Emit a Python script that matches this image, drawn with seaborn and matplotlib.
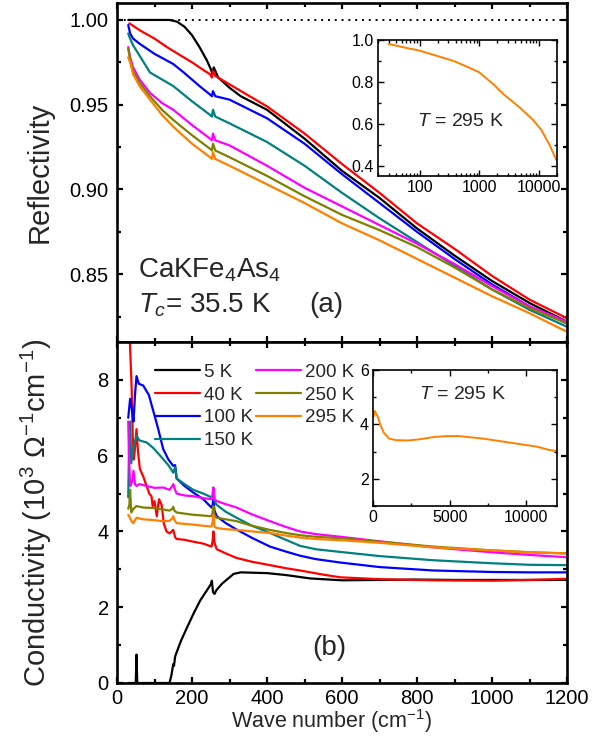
import numpy as np
import pandas as pd
import matplotlib
matplotlib.use("Agg")
import matplotlib.pyplot as plt
from matplotlib.ticker import MultipleLocator, FormatStrFormatter, FuncFormatter, LogLocator, NullFormatter
import seaborn as sns

# ---------------- data ----------------
temps = ["5 K", "40 K", "100 K", "150 K", "200 K", "250 K", "295 K"]
colors = ["#000000", "#ff0000", "#0000ff", "#008080", "#ff00ff", "#808000", "#ff8000"]

# Reflectivity R(w), wave number in cm^-1
refl_x_5 = [30, 60, 100, 140, 160, 180, 200, 220, 240, 250, 255, 258, 262, 270, 300, 330, 400, 500, 600, 700, 800,
            900, 1000, 1100, 1200]
refl_y_5 = [1.000, 1.000, 1.000, 1.000, 0.999, 0.996, 0.991, 0.984, 0.976, 0.971, 0.968, 0.972, 0.970, 0.966, 0.960,
            0.955, 0.947, 0.930, 0.911, 0.895, 0.877, 0.861, 0.846, 0.833, 0.822]
refl_x_40 = [33, 40, 60, 100, 133, 170, 200, 230, 248, 253, 256, 262, 300, 400, 500, 600, 700, 800, 900, 1000, 1100,
             1200]
refl_y_40 = [0.998, 0.997, 0.994, 0.989, 0.984, 0.979, 0.975, 0.9705, 0.968, 0.966, 0.970, 0.967, 0.962, 0.949,
             0.933, 0.915, 0.898, 0.880, 0.865, 0.849, 0.835, 0.824]
refl_x_100 = [30, 35, 43, 60, 100, 150, 178, 220, 248, 253, 256, 262, 300, 400, 500, 600, 700, 800, 900, 1000, 1100,
              1200]
refl_y_100 = [0.997, 0.992, 0.989, 0.986, 0.980, 0.974, 0.969, 0.961, 0.956, 0.955, 0.958, 0.955, 0.953, 0.942,
              0.927, 0.909, 0.892, 0.875, 0.859, 0.844, 0.831, 0.821]
refl_x_150 = [30, 35, 43, 60, 88, 150, 200, 248, 253, 256, 262, 300, 400, 500, 600, 700, 800, 900, 1000, 1100, 1200]
refl_y_150 = [0.992, 0.989, 0.985, 0.979, 0.969, 0.961, 0.952, 0.944, 0.943, 0.947, 0.943, 0.939, 0.928, 0.914,
              0.898, 0.883, 0.869, 0.855, 0.841, 0.829, 0.819]
refl_x_200 = [30, 35, 43, 60, 88, 120, 150, 200, 248, 253, 256, 262, 300, 400, 500, 600, 700, 800, 900, 1000, 1100,
              1200]
refl_y_200 = [0.984, 0.978, 0.972, 0.965, 0.957, 0.951, 0.947, 0.938, 0.930, 0.929, 0.933, 0.929, 0.926, 0.914,
              0.901, 0.890, 0.879, 0.868, 0.856, 0.843, 0.831, 0.822]
refl_x_250 = [30, 35, 43, 60, 88, 120, 150, 200, 248, 253, 256, 262, 300, 400, 500, 600, 700, 800, 900, 1000, 1100,
              1200]
refl_y_250 = [0.983, 0.977, 0.970, 0.963, 0.955, 0.947, 0.941, 0.932, 0.924, 0.923, 0.927, 0.923, 0.919, 0.908,
              0.896, 0.885, 0.876, 0.866, 0.854, 0.841, 0.830, 0.821]
refl_x_295 = [30, 35, 43, 60, 88, 120, 150, 200, 248, 253, 256, 262, 300, 400, 500, 600, 700, 800, 900, 1000, 1100,
              1200]
refl_y_295 = [0.978, 0.975, 0.968, 0.961, 0.953, 0.944, 0.937, 0.927, 0.919, 0.918, 0.922, 0.918, 0.914, 0.903,
              0.892, 0.880, 0.870, 0.859, 0.848, 0.837, 0.827, 0.816]

# Optical conductivity sigma_1(w), 10^3 Ohm^-1 cm^-1
cond_x_5 = [30, 45, 50, 52, 54, 60, 100, 140, 145, 150, 152, 155, 170, 187, 205, 222, 240, 250, 253, 256, 260, 265,
            280, 311, 330, 400, 450, 515, 600, 700, 800, 900, 1000, 1100, 1200]
cond_y_5 = [0, 0, 0, 0.75, 0, 0, 0, 0, 0.2, 0.5, 0.45, 0.7, 1.1, 1.47, 1.85, 2.18, 2.45, 2.6, 2.7, 2.4, 2.35, 2.45,
            2.62, 2.88, 2.92, 2.9, 2.85, 2.76, 2.71, 2.72, 2.73, 2.72, 2.72, 2.72, 2.72]
cond_x_40 = [30, 33, 36, 39, 42, 45, 48, 52, 56, 61, 70, 79, 86, 92, 95, 100, 106, 112, 119, 125, 132, 140, 150, 155,
             159, 180, 203, 230, 252, 255, 257, 260, 266, 290, 319, 360, 408, 450, 488, 550, 595, 700, 843, 1000,
             1100, 1200]
cond_y_40 = [9.6, 9.3, 8.6, 7.8, 6.5, 5.9, 6.2, 6.7, 6.1, 5.65, 5.45, 5.2, 5.0, 4.93, 4.67, 4.8, 4.4, 4.85, 4.7, 4.2,
             4.0, 3.95, 4.04, 3.85, 3.8, 3.78, 3.73, 3.68, 3.6, 3.75, 4.0, 3.7, 3.53, 3.42, 3.3, 3.2, 3.11, 3.03,
             2.97, 2.86, 2.79, 2.74, 2.71, 2.70, 2.72, 2.75]
cond_x_100 = [30, 35, 40, 44, 48, 52, 58, 70, 85, 97, 110, 123, 137, 150, 155, 159, 180, 203, 230, 252, 255, 257, 260,
              266, 290, 319, 360, 408, 450, 488, 530, 595, 700, 843, 1000, 1100, 1200]
cond_y_100 = [7.0, 7.5, 7.2, 6.9, 7.6, 8.1, 7.9, 7.85, 7.6, 7.17, 6.7, 6.18, 5.9, 5.73, 5.75, 5.4, 5.2, 5.03, 4.85,
              4.63, 4.7, 4.85, 4.55, 4.4, 4.22, 4.05, 3.83, 3.6, 3.47, 3.36, 3.27, 3.18, 3.06, 2.97, 2.93, 2.92, 2.92]
cond_x_150 = [30, 33, 35, 38, 44, 52, 60, 79, 97, 115, 137, 150, 155, 159, 180, 203, 230, 252, 255, 257, 260, 266,
              290, 319, 360, 408, 450, 488, 530, 595, 700, 843, 1000, 1100, 1200]
cond_y_150 = [4.9, 6.8, 6.9, 5.8, 6.2, 6.53, 6.4, 6.35, 6.2, 6.0, 5.75, 5.55, 5.7, 5.4, 5.25, 5.1, 5.0, 4.9, 4.95,
              5.15, 4.8, 4.7, 4.52, 4.36, 4.15, 3.96, 3.78, 3.62, 3.53, 3.46, 3.35, 3.24, 3.16, 3.12, 3.11]
cond_x_200 = [30, 32, 35, 40, 44, 48, 52, 60, 79, 100, 123, 140, 148, 150, 153, 159, 180, 203, 230, 252, 255, 257,
              260, 266, 290, 319, 360, 408, 450, 488, 530, 595, 700, 843, 1000, 1100, 1200]
cond_y_200 = [6.9, 6.0, 5.2, 5.3, 5.6, 5.25, 5.2, 5.25, 5.2, 5.15, 5.16, 5.1, 5.2, 5.25, 5.15, 5.0, 4.95, 4.93, 4.88,
              4.85, 4.95, 5.16, 4.85, 4.8, 4.72, 4.63, 4.45, 4.27, 4.12, 4.0, 3.93, 3.86, 3.74, 3.58, 3.45, 3.38, 3.32]
cond_x_250 = [30, 33, 35, 38, 44, 52, 70, 97, 123, 140, 148, 150, 153, 159, 180, 203, 230, 252, 255, 257, 260, 266,
              290, 319, 360, 408, 450, 488, 530, 595, 700, 843, 1000, 1100, 1200]
cond_y_250 = [4.6, 4.7, 5.1, 4.5, 4.6, 4.67, 4.63, 4.62, 4.58, 4.55, 4.6, 4.65, 4.55, 4.5, 4.47, 4.44, 4.42, 4.4,
              4.5, 4.67, 4.4, 4.36, 4.32, 4.27, 4.15, 4.04, 3.96, 3.9, 3.86, 3.82, 3.73, 3.6, 3.5, 3.45, 3.42]
cond_x_295 = [30, 35, 40, 44, 48, 52, 70, 97, 123, 140, 148, 150, 153, 159, 180, 203, 230, 252, 255, 257, 260, 266,
              290, 319, 360, 408, 450, 488, 530, 595, 700, 843, 1000, 1100, 1200]
cond_y_295 = [4.44, 4.35, 4.25, 4.22, 4.3, 4.36, 4.32, 4.3, 4.27, 4.28, 4.35, 4.4, 4.3, 4.22, 4.2, 4.18, 4.15, 4.13,
              4.25, 4.44, 4.12, 4.09, 4.06, 4.04, 4.0, 3.96, 3.89, 3.84, 3.8, 3.77, 3.7, 3.58, 3.5, 3.45, 3.42]

# Room-temperature spectra over a wide range (insets)
wide_refl_x = [30, 54, 100, 194, 369, 615, 987, 1710, 2512, 4764, 7943, 10940, 15060, 19440]
wide_refl_y = [0.981, 0.965, 0.949, 0.924, 0.900, 0.873, 0.846, 0.789, 0.742, 0.677, 0.618, 0.570, 0.498, 0.427]
wide_cond_x = [50, 100, 200, 300, 490, 700, 1040, 1500, 2310, 3000, 4040, 4810, 5600, 7150, 8930, 10700, 11500,
               12000]
wide_cond_y = [4.3, 4.5, 4.4, 4.3, 3.97, 3.7, 3.48, 3.42, 3.41, 3.45, 3.54, 3.57, 3.57, 3.48, 3.33, 3.18, 3.06, 3.02]

refl_x = [refl_x_5, refl_x_40, refl_x_100, refl_x_150, refl_x_200, refl_x_250, refl_x_295]
refl_y = [refl_y_5, refl_y_40, refl_y_100, refl_y_150, refl_y_200, refl_y_250, refl_y_295]
cond_x = [cond_x_5, cond_x_40, cond_x_100, cond_x_150, cond_x_200, cond_x_250, cond_x_295]
cond_y = [cond_y_5, cond_y_40, cond_y_100, cond_y_150, cond_y_200, cond_y_250, cond_y_295]

# ---------------- style ----------------
sns.set_style("ticks")
plt.rcParams["font.family"] = ["Liberation Sans", "DejaVu Sans"]
plt.rcParams["mathtext.fontset"] = "custom"
plt.rcParams["mathtext.rm"] = "Liberation Sans"
plt.rcParams["mathtext.it"] = "Liberation Sans:italic"
plt.rcParams["mathtext.bf"] = "Liberation Sans:bold"

fig = plt.figure(figsize=(6.16, 7.4), dpi=100)
L, R_ = 117 / 616, 567 / 616
ax1 = fig.add_axes([L, 1 - 342 / 740, R_ - L, 339 / 740])
ax2 = fig.add_axes([L, 1 - 683 / 740, R_ - L, 341 / 740], sharex=ax1)


def style_main(ax):
    for s in ax.spines.values():
        s.set_linewidth(1.9)
        s.set_color("black")
    ax.tick_params(which="both", direction="in", top=True, right=True, width=1.6, colors="black",
                   labelsize=14.5)
    ax.tick_params(which="major", length=4.5)
    ax.tick_params(which="minor", length=3)
    ax.tick_params(axis="y", pad=6)
    ax.tick_params(axis="x", pad=4)


# ----- (a) reflectivity -----
for i, t in enumerate(temps):
    df = pd.DataFrame({"wn": refl_x[i], "R": refl_y[i]})
    sns.lineplot(data=df, x="wn", y="R", ax=ax1, color=colors[i], lw=1.6, sort=False, estimator=None)
ax1.axhline(1.0, color="black", ls=(0, (1, 2.5)), lw=1.4, zorder=0)
ax1.set_ylim(0.81, 1.01)
ax1.yaxis.set_major_locator(MultipleLocator(0.05))
ax1.yaxis.set_minor_locator(MultipleLocator(0.025))
ax1.yaxis.set_major_formatter(FormatStrFormatter("%.2f"))
ax1.set_xlabel("")
ax1.set_ylabel("Reflectivity", fontsize=21)
ax1.yaxis.set_label_coords(-0.14, 0.5)
style_main(ax1)
ax1.tick_params(axis="x", labelbottom=False)
ax1.text(0.047, 0.213, r"CaKFe$_4$As$_4$", transform=ax1.transAxes, fontsize=20, va="center", ha="left")
ax1.text(0.047, 0.108, r"$T_c$= 35.5 K", transform=ax1.transAxes, fontsize=20, va="center", ha="left")
ax1.text(0.428, 0.11, "(a)", transform=ax1.transAxes, fontsize=20, va="center", ha="left")

# ----- (b) conductivity -----
for i, t in enumerate(temps):
    df = pd.DataFrame({"wn": cond_x[i], "s": cond_y[i]})
    sns.lineplot(data=df, x="wn", y="s", ax=ax2, color=colors[i], lw=1.6, sort=False, estimator=None, label=t)
ax2.set_xlim(0, 1200)
ax2.set_ylim(0, 9)
ax2.xaxis.set_major_locator(MultipleLocator(200))
ax2.xaxis.set_minor_locator(MultipleLocator(100))
ax2.yaxis.set_major_locator(MultipleLocator(2))
ax2.yaxis.set_minor_locator(MultipleLocator(1))
ax2.set_xlabel(r"Wave number (cm$^{-1}$)", fontsize=15.5, labelpad=0)
ax2.xaxis.label.set_x(0.478)
ax2.set_ylabel(r"Conductivity (10$^3$ $\Omega^{-1}$cm$^{-1}$)", fontsize=21)
ax2.yaxis.set_label_coords(-0.14, 0.5)
style_main(ax2)
ax2.text(0.435, 0.103, "(b)", transform=ax2.transAxes, fontsize=20, va="center", ha="left")
ax2.legend(ncol=2, loc="upper left", bbox_to_anchor=(0.084, 0.937), frameon=False, fontsize=13.5,
           handlelength=2.4, handletextpad=0.2, columnspacing=0.2, labelspacing=0.31, borderpad=0,
           borderaxespad=0)

# ----- insets -----
def style_inset(ax):
    for s in ax.spines.values():
        s.set_linewidth(1.2)
        s.set_color("black")
    ax.tick_params(which="both", direction="in", top=True, right=True, width=1.0, colors="black",
                   labelsize=11.5, pad=3)
    ax.tick_params(which="major", length=4)
    ax.tick_params(which="minor", length=2.5)


ins1 = fig.add_axes([378 / 616, 1 - 176 / 740, 179 / 616, 136 / 740])
sns.lineplot(x=wide_refl_x, y=wide_refl_y, ax=ins1, color=colors[-1], lw=1.4, sort=False, estimator=None)
ins1.set_xscale("log")
ins1.set_xlim(20, 20000)
ins1.set_ylim(0.35, 1.0)
ins1.yaxis.set_major_locator(MultipleLocator(0.2))
ins1.yaxis.set_minor_locator(MultipleLocator(0.1))
ins1.yaxis.set_major_formatter(FormatStrFormatter("%.1f"))
ins1.xaxis.set_major_locator(LogLocator(base=10, numticks=10))
ins1.xaxis.set_minor_locator(LogLocator(base=10, subs=np.arange(2, 10), numticks=20))
ins1.xaxis.set_minor_formatter(NullFormatter())
ins1.xaxis.set_major_formatter(FuncFormatter(lambda v, p: f"{v:.0f}"))
style_inset(ins1)
ins1.text(0.22, 0.40, r"$T$ = 295 K", transform=ins1.transAxes, fontsize=14, va="center", ha="left")

ins2 = fig.add_axes([373 / 616, 1 - 506 / 740, 184 / 616, 136 / 740])
sns.lineplot(x=wide_cond_x, y=wide_cond_y, ax=ins2, color=colors[-1], lw=1.4, sort=False, estimator=None)
ins2.set_xlim(0, 12000)
ins2.set_ylim(1, 6)
ins2.xaxis.set_major_locator(MultipleLocator(5000))
ins2.xaxis.set_minor_locator(MultipleLocator(2500))
ins2.yaxis.set_major_locator(MultipleLocator(2))
ins2.yaxis.set_minor_locator(MultipleLocator(1))
style_inset(ins2)
ins2.text(0.25, 0.82, r"$T$ = 295 K", transform=ins2.transAxes, fontsize=14, va="center", ha="left")

fig.savefig("out.png", dpi=100)
